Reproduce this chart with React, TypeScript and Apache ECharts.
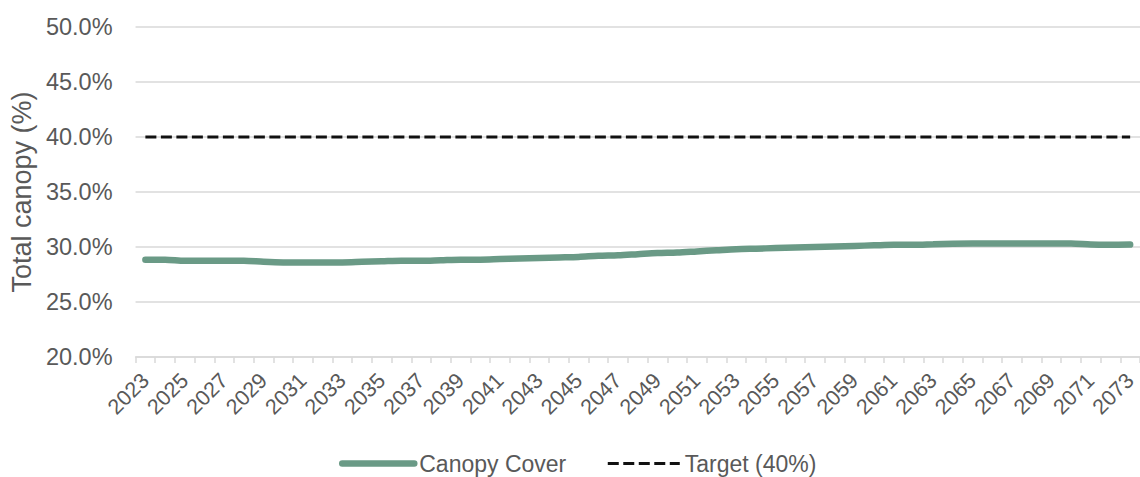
import React, { useEffect, useRef } from "react";
import * as echarts from "echarts";

const years: string[] = [];
for (let y = 2023; y <= 2073; y++) years.push(String(y));

const canopyCover: number[] = [
  28.85, 28.85, 28.75, 28.75, 28.75, 28.75, 28.65, 28.6, 28.6, 28.6,
  28.6, 28.65, 28.7, 28.75, 28.75, 28.8, 28.85, 28.85, 28.9, 28.95,
  29.0, 29.05, 29.1, 29.2, 29.25, 29.35, 29.45, 29.5, 29.6, 29.7,
  29.8, 29.85, 29.9, 29.95, 30.0, 30.05, 30.1, 30.15, 30.2, 30.2,
  30.25, 30.3, 30.32, 30.32, 30.32, 30.32, 30.32, 30.32, 30.22, 30.2,
  30.22,
];

const targetValue = 40;
const target: number[] = years.map(() => targetValue);

const yMin = 20;
const yMax = 50;
const yInterval = 5;

const seriesNames = ["Canopy Cover", "Target (40%)"];
const yAxisTitle = "Total canopy (%)";

const green = "#6a9a86";
const dark = "#111111";
const dash = [11, 4.5];

export default function App() {
  const ref = useRef<HTMLDivElement>(null);

  useEffect(() => {
    if (!ref.current) return;
    const chart = echarts.init(ref.current, null, { renderer: "svg" });
    const font = "'Liberation Sans', Arial, sans-serif";
    chart.setOption({
      animation: false,
      textStyle: { fontFamily: font },
      grid: { left: 135, right: -8, top: 27, bottom: 120, containLabel: false },
      legend: {
        left: 334,
        top: 447,
        itemGap: 40,
        itemWidth: 72,
        itemHeight: 14,
        itemStyle: { opacity: 0 },
        textStyle: { color: "#595959", fontSize: 23, fontFamily: font },
        data: [
          { name: seriesNames[0], lineStyle: { color: green, width: 6.5, cap: "round" } },
          { name: seriesNames[1], lineStyle: { color: dark, width: 3, type: dash } },
        ],
      },
      xAxis: {
        type: "category",
        data: years,
        boundaryGap: true,
        axisLine: { lineStyle: { color: "#d9d9d9", width: 1.5 } },
        axisTick: { show: true, interval: 0, length: 6, lineStyle: { color: "#d9d9d9", width: 1.5 } },
        axisLabel: {
          interval: 1,
          rotate: 45,
          margin: 20,
          color: "#595959",
          fontSize: 21.5,
          fontFamily: font,
        },
      },
      yAxis: {
        type: "value",
        min: yMin,
        max: yMax,
        interval: yInterval,
        name: yAxisTitle,
        nameLocation: "middle",
        nameGap: 94,
        nameTextStyle: { color: "#595959", fontSize: 27, fontFamily: font },
        axisLine: { show: false },
        axisTick: { show: false },
        splitLine: { lineStyle: { color: "#d9d9d9", width: 1.5 } },
        axisLabel: {
          margin: 23,
          color: "#595959",
          fontSize: 23.5,
          fontFamily: font,
          formatter: (v: number) => v.toFixed(1) + "%",
        },
      },
      series: [
        {
          name: seriesNames[0],
          type: "line",
          data: canopyCover,
          smooth: 0.3,
          symbol: "none",
          showSymbol: false,
          lineStyle: { color: green, width: 6.5, cap: "round" },
          itemStyle: { color: green },
          z: 3,
        },
        {
          name: seriesNames[1],
          type: "line",
          data: target,
          symbol: "none",
          showSymbol: false,
          lineStyle: { color: dark, width: 3, type: dash },
          itemStyle: { color: dark },
          z: 2,
        },
      ],
    });
    return () => chart.dispose();
  }, []);

  return (
    <div
      ref={ref}
      style={{ position: "fixed", left: 0, top: 0, width: 1140, height: 477, background: "#ffffff" }}
    />
  );
}
